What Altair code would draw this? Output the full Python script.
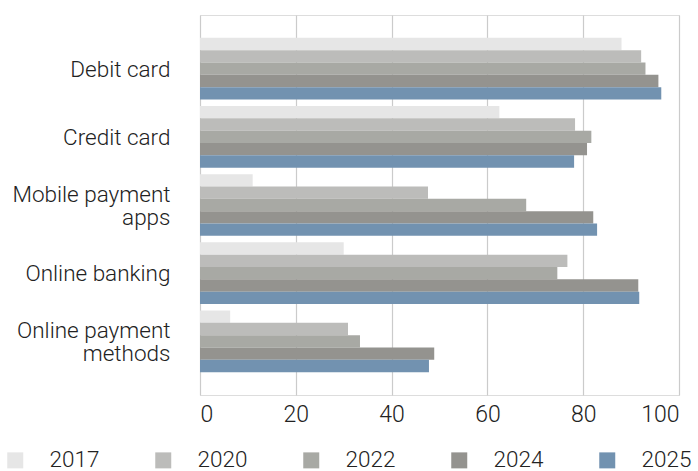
import altair as alt
import pandas as pd

categories = ["Debit card", "Credit card", "Mobile payment apps", "Online banking", "Online payment methods"]
years = ["2017", "2020", "2022", "2024", "2025"]
v2017 = [88.0, 62.5, 11.0, 30.0, 6.3]
v2020 = [92.1, 78.3, 47.6, 76.7, 30.9]
v2022 = [93.0, 81.7, 68.1, 74.6, 33.4]
v2024 = [95.7, 80.8, 82.1, 91.5, 48.9]
v2025 = [96.3, 78.1, 82.9, 91.7, 47.8]
colors = ["#e6e6e6", "#bcbcba", "#a8a9a4", "#94938f", "#7292b0"]

series = [v2017, v2020, v2022, v2024, v2025]
rows = []
for y, vals in zip(years, series):
    for c, v in zip(categories, vals):
        rows.append({"category": c, "year": y, "value": v})
df = pd.DataFrame(rows)

FONT = "Roboto"
TXT = "#222222"

label_expr = ("datum.label == 'Mobile payment apps' ? ['Mobile payment', 'apps'] : "
              "datum.label == 'Online payment methods' ? ['Online payment', 'methods'] : datum.label")
multi_test = "datum.value == 'Mobile payment apps' || datum.value == 'Online payment methods'"

chart = alt.Chart(df).mark_bar().encode(
    x=alt.X("value:Q", scale=alt.Scale(domain=[0, 100], nice=False),
            axis=alt.Axis(title=None, values=[0, 20, 40, 60, 80, 100], grid=True,
                          gridColor="#cbcbcb", gridWidth=1.2, domain=False, ticks=False,
                          labelFont=FONT, labelFontSize=23, labelFontWeight=300,
                          labelColor=TXT, labelPadding=8)),
    y=alt.Y("category:N", sort=categories,
            scale=alt.Scale(paddingInner=0.096, paddingOuter=0.335),
            axis=alt.Axis(title=None, domain=False, ticks=False, grid=False,
                          labelFont=FONT, labelFontSize=22.5, labelFontWeight=300,
                          labelColor=TXT, labelPadding=30, labelLimit=300,
                          labelLineHeight=23, labelExpr=label_expr,
                          labelOffset={"condition": {"test": multi_test, "value": -10.5}, "value": 1})),
    yOffset=alt.YOffset("year:N", sort=years, scale=alt.Scale(paddingInner=0, paddingOuter=0)),
    color=alt.Color("year:N", sort=years,
                    scale=alt.Scale(domain=years, range=colors),
                    legend=alt.Legend(title=None, orient="none", direction="horizontal",
                                      columns=5, legendX=-196, legendY=434,
                                      symbolType="square", symbolSize=256,
                                      symbolStrokeWidth=0, labelFont=FONT,
                                      labelFontSize=22.5, labelFontWeight=300,
                                      labelColor=TXT, labelOffset=23,
                                      columnPadding=52, padding=0)),
).properties(
    width=479, height=380,
    autosize=alt.AutoSizeParams(type="none"),
    padding={"left": 200, "top": 15, "right": 19, "bottom": 76},
).configure_view(stroke=None).configure(background="white")

chart.save("out.html", embed_options={"renderer": "svg", "actions": False})
